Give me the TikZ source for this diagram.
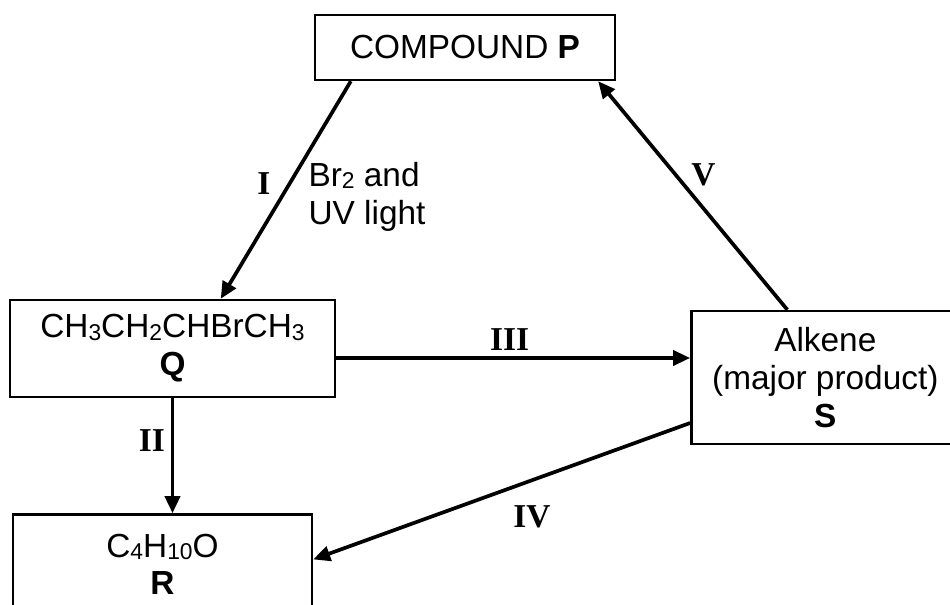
\documentclass[tikz,border=0pt]{standalone}
\usepackage{fontspec}
\setmainfont{Liberation Sans}
\newfontfamily\numfont{Liberation Serif}
\usetikzlibrary{positioning,arrows.meta,calc}
\newcommand{\chsub}[1]{\raisebox{-0.15ex}{\fontsize{13}{13}\selectfont #1}}
\newcommand{\rn}[1]{{\numfont\bfseries #1}}
\tikzset{
  box/.style={draw,line width=1.4pt,inner sep=0pt,align=center},
  >={Triangle[length=0.34cm,width=0.3cm]},
}

\begin{document}
\begin{tikzpicture}[
  x=0.02cm,y=-0.02cm,
  ->,line width=2.1pt,
  every node/.style={font=\fontsize{19}{21.5}\selectfont}
]
\useasboundingbox (0,0) rectangle (950,605);

\node[box,minimum width=6cm,minimum height=1.3cm] (P) at (465,47.5) {COMPOUND \textbf{P}};
\node[box,minimum width=6.5cm,minimum height=1.94cm] (Q) at (172.5,348.5) {CH\chsub{3}CH\chsub{2}CHBrCH\chsub{3}\\\textbf{Q}};
\node[box,minimum width=5.98cm,minimum height=2cm,below=2.3cm of Q,xshift=-0.2cm] (R) {C\chsub{4}H\chsub{10}O\\\textbf{R}};
\node[box,minimum width=5.36cm,minimum height=2.66cm,right=7.08cm of Q,yshift=-0.58cm] (S) {Alkene\\(major product)\\\textbf{S}};

\path
([xshift=0.74cm]P.south west) edge
  node[pos=0.47,left=0.23cm] {\rn{I}}
  node[pos=0.53,right=0.38cm,align=left] {Br\chsub{2} and\\UV light}
  ([xshift=4.24cm]Q.north west)
(Q.south) edge node[pos=0.37,left] {\rn{II}} (Q.south |- R.north)
([yshift=-0.19cm]Q.east) edge node[pos=0.49,above] {\rn{III}} ([yshift=-0.19cm]Q.east -| S.west)
([yshift=-0.91cm]S.west) edge node[pos=0.42,below=0.36cm] {\rn{IV}} ([yshift=0.1cm]R.east)
([xshift=-0.76cm]S.north) edge node[pos=0.59,right=0.16cm] {\rn{V}} ([xshift=-0.36cm]P.south east);

\end{tikzpicture}
\end{document}
